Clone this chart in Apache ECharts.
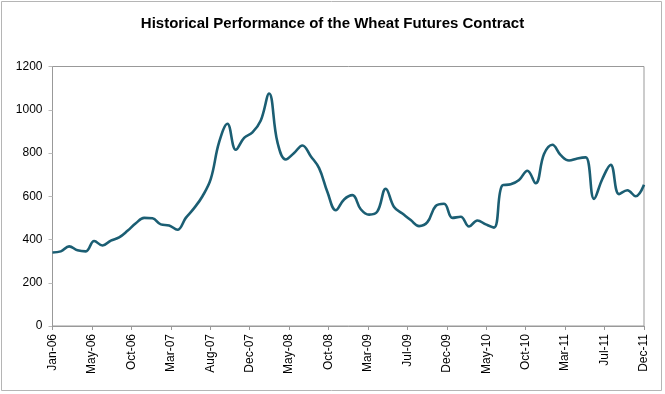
<!DOCTYPE html>
<html>
<head>
<meta charset="utf-8">
<script src="https://cdn.jsdelivr.net/npm/echarts@6/dist/echarts.min.js"></script>
<style>
html,body{margin:0;padding:0;background:#fff;}
#chart{width:665px;height:394px;}
</style>
</head>
<body>
<div id="chart"></div>
<script>
// Tick labels shown along the x axis (evenly spaced from Jan-06 to Dec-11)
var tickLabels = ["Jan-06","May-06","Oct-06","Mar-07","Aug-07","Dec-07","May-08","Oct-08",
                  "Mar-09","Jul-09","Dec-09","May-10","Oct-10","Mar-11","Jul-11","Dec-11"];
// Months from Jan-06 (0) to Dec-11 (71)
var monthIndex = [];
for (var i = 0; i < 72; i++) monthIndex.push(i);
// Wheat futures price (monthly)
var prices = [
  340, 345, 368, 350, 345, 393, 372, 395, 410, 440, 475, 500,
  498, 470, 465, 445, 500, 545, 600, 680, 850, 935, 815, 870,
  895, 950, 1075, 850, 770, 800, 835, 785, 730, 620, 535, 585,
  605, 540, 515, 530, 635, 550, 520, 490, 462, 480, 555, 565,
  500, 505, 460, 488, 470, 455, 650, 655, 675, 718, 660, 795,
  838, 790, 765, 775, 780, 588, 680, 745, 610, 628, 600, 653
];
var yTicks = [0, 200, 400, 600, 800, 1000, 1200];

var chart = echarts.init(document.getElementById('chart'), null, {renderer: 'canvas'});
var nSteps = tickLabels.length - 1;
var xMax = monthIndex[monthIndex.length - 1];
var step = xMax / nSteps;
var font = 'Liberation Sans, Arial, sans-serif';

chart.setOption({
  animation: false,
  backgroundColor: '#fff',
  title: {
    text: 'Historical Performance of the Wheat Futures Contract',
    left: 'center',
    top: 11,
    textStyle: {fontFamily: font, fontSize: 15, fontWeight: 'bold', color: '#000'}
  },
  graphic: [{
    type: 'rect',
    shape: {x: 1.5, y: 1.5, width: 660, height: 389},
    style: {fill: 'none', stroke: '#b5b5b5', lineWidth: 1},
    silent: true
  }],
  grid: {
    left: 52.5, right: 21, top: 66.5, bottom: 68,
    show: true, borderColor: '#999', borderWidth: 1, backgroundColor: 'transparent'
  },
  xAxis: {
    type: 'value',
    min: 0, max: xMax, interval: step,
    axisLine: {show: true, lineStyle: {color: '#999', width: 1}},
    axisTick: {show: true, length: 4, lineStyle: {color: '#999'}},
    splitLine: {show: false},
    axisLabel: {
      rotate: 90, fontFamily: font, fontSize: 12, color: '#000', margin: 8,
      showMinLabel: true, showMaxLabel: true,
      formatter: function (v) {
        var k = Math.round(v / step);
        return tickLabels[k] || '';
      }
    }
  },
  yAxis: {
    type: 'value',
    min: yTicks[0], max: yTicks[yTicks.length - 1], interval: yTicks[1] - yTicks[0],
    axisLine: {show: true, lineStyle: {color: '#999', width: 1}},
    axisTick: {show: true, length: 4, lineStyle: {color: '#bbb'}},
    splitLine: {show: false},
    axisLabel: {
      fontFamily: font, fontSize: 12, color: '#000', margin: 10,
      formatter: function (v) { return String(v); }
    }
  },
  series: [{
    type: 'line',
    data: monthIndex.map(function (m, i) { return [m, prices[i]]; }),
    smooth: 0.4,
    showSymbol: false,
    lineStyle: {color: '#1b5e73', width: 2.6},
    itemStyle: {color: '#1b5e73'}
  }]
});
</script>
</body>
</html>
